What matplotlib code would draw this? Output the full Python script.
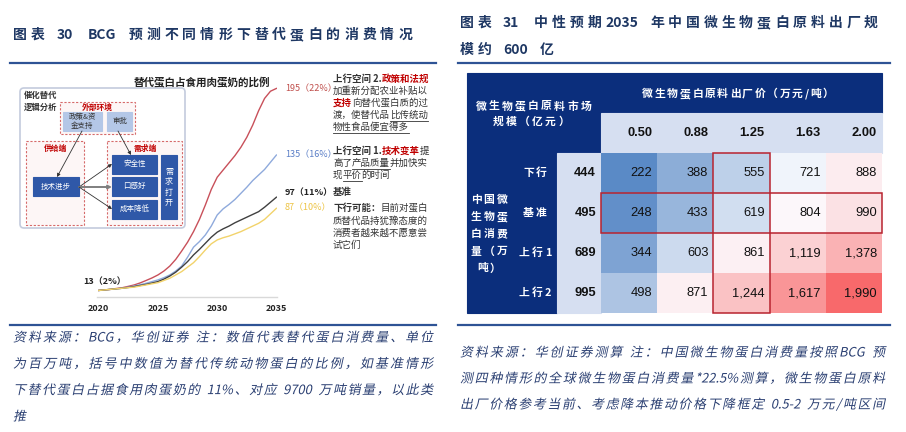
import re
import numpy as np
import matplotlib

matplotlib.use("Agg")
import matplotlib.pyplot as plt
from matplotlib.patches import Rectangle, FancyBboxPatch
from matplotlib.colors import LinearSegmentedColormap, TwoSlopeNorm
from matplotlib.patheffects import AbstractPathEffect
from matplotlib.transforms import Affine2D

plt.rcParams["font.family"] = ["Noto Sans CJK SC", "DejaVu Sans"]

# left chart: alternative protein consumption (million t), every half year
years = [2020 + 0.5 * i for i in range(31)]
up2 = [13, 13.5, 14, 14.8, 15.5, 16.7, 18, 19.8, 22, 24.3, 27, 30.5, 35, 41, 48.5, 56.5,
       66, 77, 90, 104, 115, 121.5, 128, 134.5, 142, 151, 162, 175, 186, 192.5, 195]
up1 = [13, 13.5, 14, 14.5, 15, 16, 17, 18.2, 19.5, 21, 22.5, 24.5, 27, 30.5, 35, 43,
       52, 57, 63, 71, 81, 86.5, 90.5, 95, 100.5, 106, 112, 117, 122, 128.5, 135]
base = [13, 13.5, 14, 14.5, 15, 15.7, 16.5, 17.5, 18.5, 19.7, 21, 23.2, 26, 29.5, 34, 39,
        45, 50, 55.5, 61, 65.5, 68.5, 71, 74, 76.5, 79, 81.5, 84, 88, 92.5, 97]
down = [13, 13.5, 14, 14.5, 15, 15.5, 16, 17, 18, 19, 20, 22, 24, 27, 30, 34,
        38, 43.5, 49.5, 55, 58.5, 60.5, 62, 64, 66, 68.5, 71, 73.5, 77, 82, 87]
end_labels = ["195（22%）", "135（16%）", "97（11%）", "87（10%）"]
start_label = "13（2%）"
xticks = [2020, 2025, 2030, 2035]

# right table: market size (100m yuan)
prices = ["0.50", "0.88", "1.25", "1.63", "2.00"]
scenarios = ["下行", "基准", "上行1", "上行2"]
consumption = [444, 495, 689, 995]
market = [
    [222, 388, 555, 721, 888],
    [248, 433, 619, 804, 990],
    [344, 603, 861, 1119, 1378],
    [498, 871, 1244, 1617, 1990],
]

NAVY = "#1F3864"
RULE = "#2E5395"
TXT = "#333333"
RED = "#C00000"


class Slant(AbstractPathEffect):
    def draw_path(self, renderer, gc, tpath, affine, rgbFace=None):
        renderer.draw_path(gc, tpath, Affine2D().skew_deg(12, 0) + affine, rgbFace)


fig = plt.figure(figsize=(9.06, 4.32), dpi=100)
bg = fig.add_axes([0, 0, 1, 1])
bg.set_xlim(0, 906)
bg.set_ylim(432, 0)
bg.axis("off")
rend = fig.canvas.get_renderer()


def spread(x, y, s, size, gap=0.0, x1=None, ha="left", **kw):
    items = []
    for p in re.findall(r"[!-~]+|\s+|.", s):
        if p.isspace():
            items.append((None, 0.25 * size * 100 / 72 * len(p)))
        else:
            t = bg.text(0, y, p, fontsize=size, va="center", ha="left", **kw)
            items.append((t, t.get_window_extent(rend).width))
    total = sum(w for _, w in items)
    if x1 is not None and len(items) > 1:
        gap = (x1 - x - total) / (len(items) - 1)
    span = total + gap * (len(items) - 1)
    if ha == "center":
        x -= span / 2
    elif ha == "right":
        x -= span
    for t, w in items:
        if t is not None:
            t.set_x(x)
        x += w + gap
    return gap


def runs(x, y, segs, size=6.8):
    for s, st in segs:
        color = RED if "r" in st else TXT
        weight = "bold" if ("r" in st or "b" in st) else "normal"
        t = bg.text(x, y, s, fontsize=size, color=color, weight=weight,
                    va="center", ha="left")
        w = t.get_window_extent(rend).width
        if "u" in st:
            bg.plot([x, x + w], [y + 5.3, y + 5.3], color=TXT, lw=0.6)
        x += w


def box(x0, y0, x1, y1, fc, ec=None, ls="-", lw=0.8, z=1):
    bg.add_patch(Rectangle((x0, y0), x1 - x0, y1 - y0, fc=fc,
                           ec=ec if ec else fc, ls=ls, lw=lw, zorder=z))


# ---- titles and rules
spread(13, 35, "图表 30  BCG 预测不同情形下替代蛋白的消费情况", 10, x1=412,
       color=NAVY, weight="bold")
g = spread(460, 23, "图表 31  中性预期2035 年中国微生物蛋白原料出厂规", 10, x1=878,
           color=NAVY, weight="bold")
spread(460, 50, "模约 600 亿", 10, gap=g, color=NAVY, weight="bold")
for x0, x1 in [(10, 436), (458, 890)]:
    bg.plot([x0, x1], [63, 63], color=RULE, lw=1.6)
    bg.plot([x0, x1], [325, 325], color=RULE, lw=1.6)

# ---- footnotes
slant = [Slant()]
foot_l = ["资料来源：BCG，华创证券 注：数值代表替代蛋白消费量、单位",
          "为百万吨，括号中数值为替代传统动物蛋白的比例，如基准情形",
          "下替代蛋白占据食用肉蛋奶的 11%、对应 9700 万吨销量，以此类"]
for i, s in enumerate(foot_l):
    spread(13, 338 + 26.3 * i, s, 9.3, x1=433, color="#2A3F72", path_effects=slant)
bg.text(13, 417, "推", fontsize=9.3, va="center", color="#2A3F72", path_effects=slant)
foot_r = ["资料来源：华创证券测算 注：中国微生物蛋白消费量按照BCG 预",
          "测四种情形的全球微生物蛋白消费量*22.5%测算，微生物蛋白原料",
          "出厂价格参考当前、考虑降本推动价格下降框定 0.5-2 万元/吨区间"]
for i, s in enumerate(foot_r):
    spread(460, 353 + 26 * i, s, 9.3, x1=885, color="#2A3F72", path_effects=slant)

# ---- left logic diagram
bg.add_patch(FancyBboxPatch((20, 88), 165, 140, boxstyle="round,pad=0,rounding_size=4",
                            fc="white", ec="#C3CBDD", lw=1.2, zorder=1))
bg.text(24, 95, "催化替代", fontsize=6, color=TXT, weight="bold", va="center")
bg.text(24, 107, "逻辑分析", fontsize=6, color=TXT, weight="bold", va="center")
dash = (0, (2, 1.5))
box(60, 102, 135, 134, "#FDF6F6", "#D66A6A", dash, 0.8, 2)
box(26, 141, 84, 225, "#FDF6F6", "#D66A6A", dash, 0.8, 2)
box(107, 141, 182, 225, "#FDF6F6", "#D66A6A", dash, 0.8, 2)
for x, y, s in [(97, 107, "外部环境"), (55, 148, "供给端"), (145, 148, "需求端")]:
    bg.text(x, y, s, fontsize=5.6, color=RED, weight="bold", ha="center", va="center", zorder=3)
box(63, 112, 102, 131, "#B4C7E7", z=3)
bg.text(82.5, 121.5, "政策&资\n金支持", fontsize=5.4, color=TXT, ha="center", va="center",
        linespacing=1.25, zorder=4)
box(107, 112, 132, 131, "#B4C7E7", z=3)
bg.text(119.5, 121.5, "审批", fontsize=5.4, color=TXT, ha="center", va="center", zorder=4)
DB = "#2F58A8"
box(33, 177, 79, 196, DB, z=3)
bg.text(56, 186.5, "技术进步", fontsize=5.4, color="white", ha="center", va="center", zorder=4)
for y0, s in [(155, "安全性"), (177, "口感好"), (200, "成本降低")]:
    box(112, y0, 157, y0 + 18.5, DB, z=3)
    bg.text(134.5, y0 + 9.3, s, fontsize=5.4, color="white", ha="center", va="center", zorder=4)
box(161, 155, 177, 218.5, DB, z=3)
bg.text(169, 187, "需\n求\n打\n开", fontsize=5.8, color="white", ha="center", va="center",
        linespacing=1.2, zorder=4)
arrows = [((82, 131), (57, 177), "#333333", 0.6), ((118, 131), (131, 155), "#333333", 0.6),
          ((79, 187), (112, 164), "#333333", 0.6), ((79, 187), (112, 187), "#7F7F7F", 1.4),
          ((79, 187), (112, 209), "#333333", 0.6)]
for a, b, c, lw in arrows:
    bg.annotate("", xy=b, xytext=a, zorder=5,
                arrowprops=dict(arrowstyle="-|>", color=c, lw=lw, mutation_scale=5,
                                shrinkA=0, shrinkB=0))

# ---- left line chart
ax = fig.add_axes([97 / 906, 1 - 297 / 432, 180 / 906, 217 / 432])
ax.patch.set_alpha(0)
colors = ["#C8505A", "#8FAADC", "#404040", "#F2D36B"]
for vals, c in zip([up2, up1, base, down], colors):
    ax.plot(years, vals, color=c, lw=1.0)
ax.set_xlim(2019.85, 2035.05)
ax.set_ylim(7.1, 202.6)
for s in ["top", "right", "left"]:
    ax.spines[s].set_visible(False)
ax.spines["bottom"].set_color("#D9D9D9")
ax.spines["bottom"].set_linewidth(1.0)
ax.set_yticks([])
ax.set_xticks(xticks)
ax.set_xticklabels([str(t) for t in xticks], fontweight="bold")
ax.tick_params(axis="x", length=0, labelsize=6.5, colors="#222222", pad=5)

bg.text(202, 82, "替代蛋白占食用肉蛋奶的比例", fontsize=7.6, weight="bold",
        color="#222222", ha="center", va="center")
lab_col = ["#C0504D", "#5B7FC7", "#222222", "#EDC445"]
lab_y = [89, 155, 193, 208]
for s, c, y in zip(end_labels, lab_col, lab_y):
    bg.text(285, y, s, fontsize=6.5, color=c, va="center",
            weight="bold" if c == "#222222" else "normal")
bg.text(83, 282, start_label, fontsize=6.5, color="#222222", weight="bold", va="center")

runs(333, 78.5, [("上行空间 2.", "b"), ("政策和法规", "r")])
runs(333, 91, [("加重新分配农业补贴以", "")])
runs(333, 103, [("支持", "r"), ("向替代蛋白质的过", "")])
runs(333, 115.5, [("渡，使替代品", ""), ("比传统动", "u")])
runs(333, 127.5, [("物性食品便宜得多", "u")])
runs(333, 151, [("上行空间 1.", "b"), ("技术变革", "r"), ("提", "")])
runs(333, 163.3, [("高了", ""), ("产品质量", "u"), ("并加快实", "")])
runs(333, 175.3, [("现", ""), ("平价", "u"), ("的时间", "")])
runs(333, 192, [("基准", "b")])
runs(333, 208.3, [("下行可能：", "b"), ("目前对蛋白", "")])
runs(333, 220.7, [("质替代品持犹豫态度的", "")])
runs(333, 233, [("消费者越来越不愿意尝", "")])
runs(333, 245.3, [("试它们", "")])

# ---- right table
TN = "#0B2E7C"
LB = "#D6DFF1"
box(467, 73, 882, 113, TN)
box(467, 113, 601, 153, TN)
box(467, 153, 557, 313, TN)
box(557, 153, 601, 313, LB)
box(601, 113, 882, 153, LB)
xe = np.linspace(601, 882, len(prices) + 1)
ye = np.linspace(153, 313, len(scenarios) + 1)
M = np.array(market, dtype=float)
cmap = LinearSegmentedColormap.from_list("excel3", ["#5A8AC6", "#FCFCFF", "#F8696B"])
norm = TwoSlopeNorm(vmin=M.min(), vcenter=np.median(M), vmax=M.max())
bg.pcolormesh(xe, ye, M, cmap=cmap, norm=norm, zorder=1)

spread(738, 94, "微生物蛋白原料出厂价（万元/吨）", 7.8, gap=1.6, ha="center",
       color="white", weight="bold")
spread(533.5, 106.5, "微生物蛋白原料市场", 7.8, gap=2.2, ha="center", color="white", weight="bold")
spread(531, 121.7, "规模（亿元）", 7.8, gap=2.2, ha="center", color="white", weight="bold")
for i, s in enumerate(["中国微", "生物蛋", "白消费", "量（万", "吨）"]):
    spread(489, 200 + 17.1 * i, s, 7.8, gap=2, ha="center", color="white", weight="bold")
for j, p in enumerate(prices):
    bg.text(xe[j + 1] - 5, 133, p, fontsize=9.3, weight="bold", color="#111111",
            family="Liberation Sans", ha="right", va="center")
for i, sc in enumerate(scenarios):
    yc = (ye[i] + ye[i + 1]) / 2
    spread(535, yc, sc, 7.8, gap=2, ha="center", color="white", weight="bold")
    bg.text(596, yc, str(consumption[i]), fontsize=9.3, weight="bold", color="#111111",
            family="Liberation Sans", ha="right", va="center")
    for j in range(len(prices)):
        bg.text(xe[j + 1] - 5, yc, f"{market[i][j]:,}", fontsize=9.3, color="#111111",
                family="Liberation Sans", ha="right", va="center", zorder=3)
bg.add_patch(Rectangle((xe[0], ye[1]), xe[-1] - xe[0], ye[2] - ye[1], fc="none",
                       ec="#B8232F", lw=1.1, zorder=4))
bg.add_patch(Rectangle((xe[2], ye[0]), xe[3] - xe[2], ye[-1] - ye[0], fc="none",
                       ec="#B8232F", lw=1.1, zorder=4))

fig.savefig("out.png", dpi=100)
